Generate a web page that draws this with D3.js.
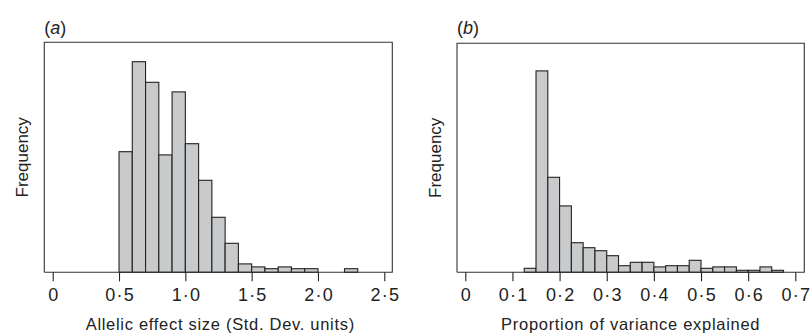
<!DOCTYPE html>
<html>
<head>
<meta charset="utf-8">
<script src="https://cdn.jsdelivr.net/npm/d3@7"></script>
<style>
  body { margin: 0; background: #fff; }
  text { font-family: "Liberation Sans", Arial, sans-serif; fill: #222; }
</style>
</head>
<body>
<div id="chart"></div>
<script>
// panel (a): allelic effect size, bins of 0.1 starting at 0.5
const binStartA = [0.5, 0.6, 0.7, 0.8, 0.9, 1.0, 1.1, 1.2, 1.3, 1.4, 1.5, 1.6, 1.7, 1.8, 1.9, 2.0, 2.1, 2.2];
const freqA = [60.3, 105.3, 95, 58.7, 90.2, 64.3, 46, 27.5, 14.5, 4.2, 2.7, 1.8, 2.7, 1.8, 1.8, 0, 0, 1.8];
const binWidthA = 0.1;
const ticksA = [0, 0.5, 1.0, 1.5, 2.0, 2.5];

// panel (b): proportion of variance explained, bins of 0.025 starting at 0.125
const binStartB = [0.125, 0.15, 0.175, 0.2, 0.225, 0.25, 0.275, 0.3, 0.325, 0.35, 0.375,
  0.4, 0.425, 0.45, 0.475, 0.5, 0.525, 0.55, 0.575, 0.6, 0.625, 0.65];
const freqB = [2, 100.7, 47.5, 33.2, 14.8, 12.3, 10.8, 8.3, 3.3, 5, 5,
  2.7, 3.3, 3.3, 6, 2, 2.7, 2.7, 1, 1, 2.7, 1];
const binWidthB = 0.025;
const ticksB = [0, 0.1, 0.2, 0.3, 0.4, 0.5, 0.6, 0.7];

const width = 812;
const height = 335;

const svg = d3.select('#chart')
  .append('svg')
  .attr('width', width)
  .attr('height', height);

// tick labels use the middle dot as decimal point
const fmt = (d) => d === 0 ? '0' : d3.format('.1f')(d).replace('.', '\u00b7');

function drawPanel(opt) {
  const x = d3.scaleLinear().domain(opt.xDomain).range(opt.xRange);
  const y = d3.scaleLinear().domain([0, opt.yMax]).range([opt.bottom, opt.top]);
  const g = svg.append('g');

  // bars
  g.selectAll('rect.bar')
    .data(opt.starts.map((s, i) => ({ s: s, v: opt.freq[i] })).filter(d => d.v > 0))
    .enter()
    .append('rect')
    .attr('class', 'bar')
    .attr('x', d => x(d.s))
    .attr('width', d => x(d.s + opt.binWidth) - x(d.s))
    .attr('y', d => y(d.v))
    .attr('height', d => y(0) - y(d.v))
    .attr('fill', '#c9cacc')
    .attr('stroke', '#222')
    .attr('stroke-width', 1.1);

  // frame: left, top, right, plus the baseline
  g.append('path')
    .attr('d', `M${opt.boxLeft},${opt.bottom}V${opt.top}H${opt.boxRight}V${opt.bottom}H${opt.boxLeft}`)
    .attr('fill', 'none')
    .attr('stroke', '#333')
    .attr('stroke-width', 1.1);

  // x axis ticks
  const axis = d3.axisBottom(x)
    .tickValues(opt.ticks)
    .tickFormat(fmt)
    .tickSize(9)
    .tickPadding(7);
  const ax = g.append('g')
    .attr('transform', `translate(0,${opt.bottom})`)
    .call(axis);
  ax.select('.domain').remove();
  ax.selectAll('line').attr('stroke', '#222').attr('stroke-width', 1.1);
  ax.selectAll('text')
    .style('font-size', '18px')
    .style('letter-spacing', '1.2px')
    .attr('dx', '0.6')
    .attr('fill', '#222')
    .style('font-family', '"Liberation Sans", Arial, sans-serif');

  // axis titles
  g.append('text')
    .attr('x', (opt.boxLeft + opt.boxRight) / 2 + opt.titleShift)
    .attr('y', 330)
    .attr('text-anchor', 'middle')
    .style('font-size', '16.5px')
    .style('letter-spacing', '0.7px')
    .text(opt.xTitle);

  g.append('text')
    .attr('transform', `translate(${opt.boxLeft - 16},${(opt.top + opt.bottom) / 2}) rotate(-90)`)
    .attr('text-anchor', 'middle')
    .style('font-size', '17px')
    .text('Frequency');

  // panel letter
  const lab = g.append('text')
    .attr('x', opt.boxLeft)
    .attr('y', 34)
    .style('font-size', '18px');
  lab.append('tspan').text('(');
  lab.append('tspan').style('font-style', 'italic').text(opt.letter);
  lab.append('tspan').text(')');
}

drawPanel({
  starts: binStartA, freq: freqA, binWidth: binWidthA, ticks: ticksA,
  xDomain: [0, 2.5], xRange: [52.7, 384.3], yMax: 115,
  top: 42.3, bottom: 272.3, boxLeft: 44.3, boxRight: 392.3,
  xTitle: 'Allelic effect size (Std. Dev. units)', titleShift: 2, letter: 'a'
});

drawPanel({
  starts: binStartB, freq: freqB, binWidth: binWidthB, ticks: ticksB,
  xDomain: [0, 0.7], xRange: [465.3, 795.3], yMax: 114.5,
  top: 43.3, bottom: 272.3, boxLeft: 457, boxRight: 804.3,
  xTitle: 'Proportion of variance explained', titleShift: 0, letter: 'b'
});
</script>
</body>
</html>
